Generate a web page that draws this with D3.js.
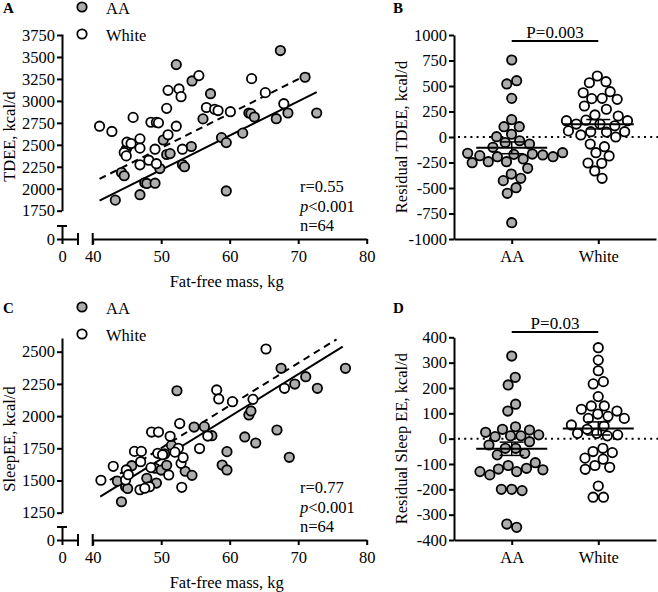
<!DOCTYPE html>
<html><head><meta charset="utf-8">
<script src="https://cdn.jsdelivr.net/npm/d3@7"></script>
<style>
body{margin:0;background:#fff}
svg{display:block}
text{font-family:"Liberation Serif","Times New Roman",serif;fill:#000}
</style>
</head><body>
<svg id="c" width="658" height="592"></svg>
<script>
// ---------- DATA ----------
const groups = ["AA", "White"];

// Panel A: Fat-free mass (kg) vs TDEE (kcal/d)
const ffmA_AA = [43.3,44.2,44.6,44.9,45.2,46.9,47.6,47.9,49.1,49.8,50.3,50.8,51.3,52.2,53.1,53.4,54.4,54.5,56.1,57.2,58.8,59.5,59.5,61.9,62.8,63.1,63.6,66.8,67.4,68.5,71.0,72.7];
const tdee_AA  = [1870,2184,2148,2450,2495,1932,2068,2060,2063,2230,2555,2390,2400,3413,2275,2250,2481,3227,2795,3082,2582,2525,1975,2633,2862,2855,2816,2797,3573,2862,3269,2862];
const ffmA_W   = [41.0,42.8,44.6,44.9,45.0,45.6,45.9,46.9,46.9,46.9,48.2,48.5,49.3,49.6,49.3,49.1,50.8,51.0,51.0,52.2,52.6,52.9,53.1,55.5,56.6,57.8,58.3,60.1,63.2,65.2,67.9];
const tdee_W   = [2712,2652,2412,2374,2530,2515,2812,2568,2462,2272,2325,2757,2755,2750,2285,2450,2915,3120,2614,2712,3136,3048,2450,3288,2925,2905,2890,2877,3253,3094,2968];
// regression fits [intercept, slope, xStart, xEnd]
const fitA_AA = [267.6, 38.96, 41.0, 72.7];
const fitA_W  = [507.7, 39.13, 41.0, 72.0];
const statsA = ["r=0.55", "<0.001", "n=64"];

// Panel B: residual TDEE (kcal/d)
const residTDEE_AA = [755,552,520,379,170,101,101,27,3,-37,-54,-69,-101,-154,-160,-167,-170,-176,-183,-193,-193,-215,-242,-242,-252,-307,-363,-405,-428,-497,-552,-840];
const residTDEE_W  = [598,542,532,444,434,379,376,369,304,272,216,206,165,160,160,127,127,110,60,52,52,48,20,0,-69,-95,-154,-186,-255,-258,-333,-405];
const pB = "P=0.003";

// Panel C: Fat-free mass (kg) vs Sleep EE (kcal/d)
const ffmC_AA = [43.6,44.2,44.8,45.1,45.7,47.9,49.1,49.3,50.0,50.5,50.8,51.5,52.3,53.5,54.5,54.8,56.3,57.4,58.9,59.6,59.6,62.2,62.8,63.1,63.8,66.9,67.5,68.7,69.5,71.1,72.8,76.9];
const sleep_AA = [1495,1335,1452,1438,1615,1517,1595,1480,1581,1706,1618,1773,2197,1572,1540,1915,1918,1848,1620,1582,1724,1838,2009,2040,1791,1892,2371,1680,2249,2306,2216,2371];
const ffmC_W  = [41.2,43.0,44.8,44.9,46.1,47.1,47.0,46.9,48.3,48.6,49.6,49.5,51.3,51.1,52.5,52.7,52.9,53.2,53.0,55.6,56.8,58.1,58.4,60.4,63.4,65.3,68.0,45.2,48.5,50.2,47.6,52.0];
const sleep_W = [1502,1610,1504,1582,1726,1726,1646,1428,1452,1876,1876,1711,1843,1543,1750,1942,1633,1678,1447,1748,1845,2203,2133,2112,2130,2521,2216,1545,1600,1700,1440,1720];
const fitC_AA = [22.0, 32.9, 41.1, 76.5];
const fitC_W  = [101.5, 33.0, 42.5, 75.6];
const statsC = ["r=0.77", "<0.001", "n=64"];

// Panel D: residual Sleep EE (kcal/d)
const residSleep_AA = [326,242,212,136,109,47,37,34,25,15,11,11,8,-12,-25,-38,-38,-58,-64,-95,-106,-117,-120,-123,-130,-130,-143,-200,-200,-205,-337,-350];
const residSleep_W  = [359,310,268,225,216,166,129,129,116,109,97,88,80,80,54,50,37,21,21,15,11,-38,-51,-55,-77,-81,-106,-113,-121,-187,-231,-231];
const pD = "P=0.03";

const ticksA_y = [1750,2000,2250,2500,2750,3000,3250,3500,3750];
const ticksC_y = [1250,1500,1750,2000,2250,2500];
const ticksX   = [40,50,60,70,80];
const ticksB_y = [-1000,-750,-500,-250,0,250,500,750,1000];
const ticksD_y = [-400,-300,-200,-100,0,100,200,300,400];

// ---------- DRAWING ----------
const svg = d3.select("#c");
const FS = 16.5, AXW = 2, R = 4.7, SW = 1.8, GRAY = "#adadad";
const FONT = '"Liberation Serif","Times New Roman",serif';

function styleAxis(g){
  g.attr("font-family", null).attr("font-size", null);
  g.selectAll("path,line").attr("stroke", "#000").attr("stroke-width", AXW);
  g.selectAll("text").attr("font-size", FS).attr("font-family", FONT).attr("fill", "#000");
}
function label(t, x, y){
  svg.append("text").attr("x", x).attr("y", y).attr("font-size", 15).attr("font-weight", "bold").text(t);
}
function yTitle(t, x, cy){
  svg.append("text").attr("transform", `translate(${x},${cy}) rotate(-90)`)
    .attr("text-anchor", "middle").attr("font-size", FS).text(t);
}
function line(x1,y1,x2,y2,w){
  svg.append("line").attr("x1",x1).attr("y1",y1).attr("x2",x2).attr("y2",y2)
    .attr("stroke","#000").attr("stroke-width",w||AXW);
}

function scatterPanel(o){
  const axX = 62, x0 = 92.7, x1 = 366.7;
  const x = d3.scaleLinear([40, 80], [x0, x1]);
  const yBase = d3.scaleLinear([o.ticks[0], o.ticks[o.ticks.length-1]], [o.yBotPx, o.yTopPx]);
  const y = d3.scaleLinear([o.ticks[0], yBase.invert(o.axisTopPx)], [o.yBotPx, o.axisTopPx]);
  svg.append("g").attr("transform", `translate(${axX},0)`)
    .call(d3.axisLeft(y).tickValues(o.ticks).tickSize(5).tickSizeOuter(0).tickPadding(2).tickFormat(String))
    .call(styleAxis);
  const yLow = d3.scaleLinear([0, 1], [o.zeroPx, o.zeroPx - 13]);
  svg.append("g").attr("transform", `translate(${axX},0)`)
    .call(d3.axisLeft(yLow).tickValues([0]).tickSize(5).tickSizeOuter(0).tickPadding(2).tickFormat(String))
    .call(styleAxis);
  line(axX - 5, o.zeroPx - 13, axX + 5, o.zeroPx - 13);
  const xLow = d3.scaleLinear([0, 1], [axX, axX + 16]);
  svg.append("g").attr("transform", `translate(0,${o.zeroPx})`)
    .call(d3.axisBottom(xLow).tickValues([0]).tickSize(5).tickSizeOuter(0).tickPadding(6).tickFormat(String))
    .call(styleAxis);
  line(axX + 16, o.zeroPx - 6, axX + 16, o.zeroPx + 6);
  svg.append("g").attr("transform", `translate(0,${o.zeroPx})`)
    .call(d3.axisBottom(x).tickValues(ticksX).tickSize(5).tickSizeOuter(0).tickPadding(6).tickFormat(String))
    .call(styleAxis);
  line(x(40), o.zeroPx - 6, x(40), o.zeroPx + 6);
  svg.append("text").attr("x", (x0 + x1) / 2 - 3).attr("y", o.zeroPx + 48).attr("text-anchor", "middle")
    .attr("font-size", FS).text("Fat-free mass, kg");
  yTitle(o.ytitle, 14.5, (o.axisTopPx + o.zeroPx) / 2);
  const fits = [[o.fitAA, null], [o.fitW, "7,5"]];
  fits.forEach(([f, dash]) => {
    const p = [f[2], f[3]].map(v => [x(v), y(f[0] + f[1] * v)]);
    svg.append("path").attr("d", d3.line()(p)).attr("stroke", "#000").attr("stroke-width", 2)
      .attr("fill", "none").attr("stroke-dasharray", dash);
  });
  const sets = [[o.xAA, o.yAA, GRAY], [o.xW, o.yW, "#fff"]];
  sets.forEach(([xs, ys, fill]) => {
    svg.append("g").selectAll("circle").data(xs.map((v, i) => [v, ys[i]])).join("circle")
      .attr("cx", d => x(d[0])).attr("cy", d => y(d[1])).attr("r", R)
      .attr("fill", fill).attr("stroke", "#000").attr("stroke-width", SW);
  });
  [[groups[0], GRAY, o.legY], [groups[1], "#fff", o.legY + 27]].forEach(([t, f, ly]) => {
    svg.append("circle").attr("cx", 82).attr("cy", ly).attr("r", R).attr("fill", f)
      .attr("stroke", "#000").attr("stroke-width", SW);
    svg.append("text").attr("x", 106).attr("y", ly + 6.5).attr("font-size", FS).text(t);
  });
  const sx = 300, sb = o.zeroPx - 47;
  svg.append("text").attr("x", sx).attr("y", sb).attr("font-size", FS).text(o.stats[0]);
  const t2 = svg.append("text").attr("x", sx).attr("y", sb + 19.5).attr("font-size", FS);
  t2.append("tspan").attr("font-style", "italic").text("p");
  t2.append("tspan").text(o.stats[1]);
  svg.append("text").attr("x", sx).attr("y", sb + 39).attr("font-size", FS).text(o.stats[2]);
}

function swarmPanel(o){
  const axX = 454;
  const x = d3.scalePoint(groups, [axX, 656]).padding(2/3);
  const y = d3.scaleLinear(o.domain, [o.botPx, o.topPx]);
  svg.append("g").attr("transform", `translate(${axX},0)`)
    .call(d3.axisLeft(y).tickValues(o.ticks).tickSize(5).tickSizeOuter(0).tickPadding(2).tickFormat(String))
    .call(styleAxis);
  svg.append("g").attr("transform", `translate(0,${o.botPx})`)
    .call(d3.axisBottom(x).tickSize(5).tickSizeOuter(0).tickPadding(6))
    .call(styleAxis);
  yTitle(o.ytitle, 407, (o.topPx + o.botPx) / 2);
  svg.append("line").attr("x1", axX + 4).attr("x2", 658).attr("y1", y(0)).attr("y2", y(0))
    .attr("stroke", "#000").attr("stroke-width", 2).attr("stroke-dasharray", "2,4.2");
  groups.forEach((gn, gi) => {
    const vals = o.values[gi];
    const cx = x(gn);
    const nodes = vals.map((v, i) => ({v, x: cx + ((i % 2) ? 1 : -1) * (i % 5), y: y(v), fy: y(v)}));
    const sim = d3.forceSimulation(nodes)
      .force("x", d3.forceX(cx).strength(0.1))
      .force("c", d3.forceCollide(R + 0.5).iterations(2)).stop();
    for (let k = 0; k < 400; k++) sim.tick();
    svg.append("g").selectAll("circle").data(nodes).join("circle")
      .attr("cx", d => d.x).attr("cy", d => y(d.v)).attr("r", R)
      .attr("fill", gi === 0 ? GRAY : "#fff").attr("stroke", "#000").attr("stroke-width", SW);
  });
  groups.forEach((gn, gi) => {
    const vals = o.values[gi];
    const m = d3.mean(vals), sem = d3.deviation(vals) / Math.sqrt(vals.length);
    const cx = x(gn);
    line(cx - 35.5, y(m), cx + 35.5, y(m), 2);
    line(cx, y(m - sem), cx, y(m + sem), 1.5);
    line(cx - 12, y(m + sem), cx + 12, y(m + sem), 1.5);
    line(cx - 12, y(m - sem), cx + 12, y(m - sem), 1.5);
  });
  line(x(groups[0]), o.pLineY, x(groups[1]), o.pLineY, 2);
  svg.append("text").attr("x", (x(groups[0]) + x(groups[1])) / 2).attr("y", o.pLineY - 3.5)
    .attr("text-anchor", "middle").attr("font-size", FS + 0.5).text(o.ptext);
}

scatterPanel({ticks: ticksA_y, yBotPx: 210.7, yTopPx: 35, axisTopPx: 34, zeroPx: 239,
  ytitle: "TDEE, kcal/d", xAA: ffmA_AA, yAA: tdee_AA, xW: ffmA_W, yW: tdee_W,
  fitAA: fitA_AA, fitW: fitA_W, stats: statsA, legY: 7});
scatterPanel({ticks: ticksC_y, yBotPx: 512.7, yTopPx: 351.7, axisTopPx: 338, zeroPx: 540,
  ytitle: "SleepEE, kcal/d", xAA: ffmC_AA, yAA: sleep_AA, xW: ffmC_W, yW: sleep_W,
  fitAA: fitC_AA, fitW: fitC_W, stats: statsC, legY: 307});
swarmPanel({domain: [-1000, 1000], botPx: 239, topPx: 35, ticks: ticksB_y,
  ytitle: "Residual TDEE, kcal/d", values: [residTDEE_AA, residTDEE_W], pLineY: 41, ptext: pB});
swarmPanel({domain: [-400, 400], botPx: 540, topPx: 337.3, ticks: ticksD_y,
  ytitle: "Residual Sleep EE, kcal/d", values: [residSleep_AA, residSleep_W], pLineY: 332, ptext: pD});

label("A", 3, 13); label("B", 393, 13); label("C", 3, 313); label("D", 393, 313);
</script>
</body></html>
